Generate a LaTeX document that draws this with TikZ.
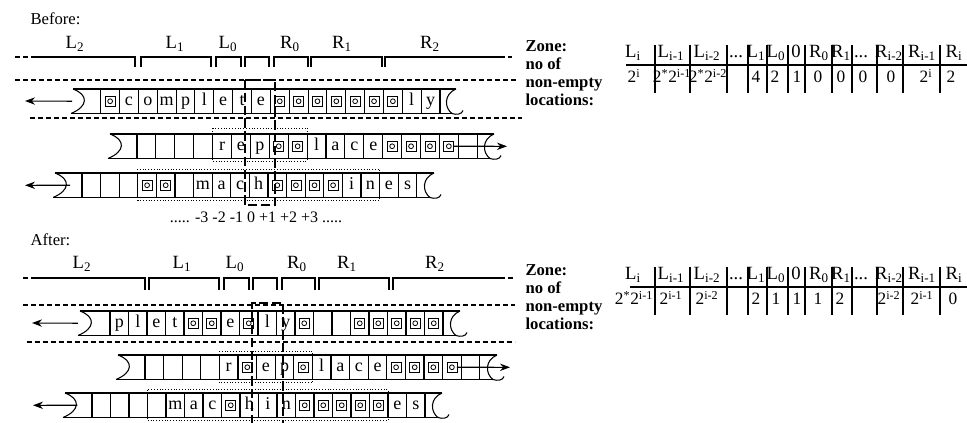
\documentclass[tikz,border=0pt]{standalone}
\usepackage{fontspec}
\setmainfont{Liberation Serif}
\usetikzlibrary{arrows.meta}

% markers used in the tape contents
\def\holemark{H}
\def\blankmark{E}
\newcommand\etc{...}

\tikzset{
  cell/.style={draw, inner sep=0, outer sep=0, text height=8.5pt, text depth=2.5pt,
    font=\fontsize{13.5}{15}\selectfont},
  pics/hole/.style={
    code={
      \draw[line width=0.6pt] (-5,-5) rectangle (5,5);
      \draw[line width=0.6pt] (0,0) circle (2.4);
    }
  },
  guide/.style={dash pattern=on 3.8pt off 2.2pt},
  headwin/.style={line width=1.7pt, dash pattern=on 7pt off 2.6pt},
  marked/.style={line width=0.55pt, dash pattern=on 0.6pt off 1.5pt},
  move/.style={-{Stealth[length=7.5pt,width=5.5pt]}},
  zonelbl/.style={font=\fontsize{14}{16}\selectfont},
  tbl/.style={anchor=base, inner sep=0, font=\fontsize{14}{16}\selectfont},
  tblval/.style={tbl, font=\fontsize{13}{15}\selectfont},
  note/.style={anchor=base west, inner sep=0, font=\bfseries\fontsize{12.5}{14}\selectfont}
}

% one tape: name, left x of first cell, top y, cell width, contents
\newcommand\tape[5]{%
  \foreach \cellchar [count=\n] in {#5} {
    \edef\cellval{\cellchar}
    \node[cell, minimum width=#4*0.75pt, minimum height=24.5*0.75pt]
      (#1-\n) at ({#2+(\n-0.5)*#4}, {#3+12.25})
      {\ifx\cellval\holemark\else\ifx\cellval\blankmark\else\cellchar\fi\fi};
    \ifx\cellval\holemark \pic at (#1-\n) {hole}; \fi
  }
}

% torn ends of a tape: left x, right x, top y, bottom y
\newcommand\tapeends[4]{%
  \draw (#1,#3) -- (#2,#3);
  \draw (#1-2,#4) -- (#2-4,#4);
  \draw (#1,#3) .. controls (#1+16,#3+6) and (#1+15,#4-7) .. (#1-2,#4);
  \draw (#2,#3) .. controls (#2-12,#3+5) and (#2-12,#4-6) .. (#2-4,#4)
    .. controls (#2,#4+1.5) and (#2+6,#4+1) .. (#2+7,#4-3);
}

\begin{document}
\begin{tikzpicture}[x=0.75pt, y=-0.75pt, line width=0.8pt]
  \useasboundingbox (0,0) rectangle (967,423);

  %%% before
  \node[font=\fontsize{12.5}{14}\selectfont, anchor=west, inner sep=0] (before) at (30,19) {Before:};

  \foreach \x/\s [count=\n] in {75/L\textsubscript{2}, 175/L\textsubscript{1}, 228/L\textsubscript{0},
      290/R\textsubscript{0}, 342/R\textsubscript{1}, 430/R\textsubscript{2}}
    \node[zonelbl] (bz\n) at (\x,44) {\s};
  \draw[guide] (15,57) -- (35,57);
  \draw (35,57) -- (135,57) -- (135,67);
  \foreach \a/\b in {141/211, 216/241, 245/269, 274/308, 311/382}
    \draw (\a,67) -- (\a,57) -- (\b,57) -- (\b,67);
  \draw (385,67) -- (385,57) -- (500,57);
  \draw[guide] (500,57) -- (512,57);

  \draw[guide] (15,80) -- (517,80);
  \draw[guide] (30,118) -- (522,118);

  \tape{bt1}{100.7}{89}{18.85}{H,c,o,m,p,l,e,t,e,H,H,H,H,H,H,H,l,y}
  \tapeends{73}{456}{89}{113.5}
  \tape{bt2}{137}{134}{18.9}{E,E,E,E,r,e,p,H,H,l,a,c,e,H,H,H,H,E}
  \tapeends{110}{494}{134}{158.5}
  \tape{bt3}{82}{173}{18.6}{E,E,E,H,H,E,m,a,c,h,H,H,H,H,i,n,e,s}
  \tapeends{55}{434}{173}{197.5}

  \coordinate (bt1-out) at (25,101);
  \coordinate (bt2-out) at (507,146.3);
  \coordinate (bt3-out) at (25,185.3);
  \draw[move] ([xshift=-21.5pt]bt1-1.west) -- (bt1-out);
  \draw[move] ([xshift=3.7pt]bt2-17.center) -- (bt2-out);
  \draw[move] ([xshift=-9pt]bt3-1.west) -- (bt3-out);

  \draw[marked] ([yshift=4.5pt]bt2-5.north west) rectangle ([yshift=-2pt]bt2-9.south east);
  \draw[marked] ([yshift=3pt]bt3-4.north west) rectangle ([yshift=-2pt]bt3-16.south east);
  \draw[headwin] (245,80) rectangle (275,205);

  \node[font=\fontsize{12}{14}\selectfont] (pos) at (256,217) {..... -3 -2 -1 0 +1 +2 +3 .....};

  \foreach \t [count=\n] in {Zone:, no of, non-empty, locations:}
    \node[note] (bn\n) at (525,{34.3+17.7*\n}) {\t};

  \foreach \x/\t [count=\n] in {633/L\textsubscript{i}, 671/L\textsubscript{i-1}, 707/L\textsubscript{i-2},
      736/\etc, 756/L\textsubscript{1}, 776/L\textsubscript{0}, 796/0, 819/R\textsubscript{0},
      841/R\textsubscript{1}, 861/\etc, 889/R\textsubscript{i-2}, 922/R\textsubscript{i-1}, 954/R\textsubscript{i}}
    \node[tbl] (bh\n) at (\x,58) {\t};
  \foreach \x/\t [count=\n] in {634/2\textsuperscript{i}, 672/2\textsuperscript{*}2\textsuperscript{i-1},
      708/2\textsuperscript{*}2\textsuperscript{i-2}, 756/4, 775/2, 797/1, 818/0, 841/0, 863/0,
      891/0, 926/2\textsuperscript{i}, 951/2}
    \node[tblval] (bv\n) at (\x,83) {\t};
  \draw (626,65) -- (967,65);
  \foreach \x in {655,690,727,748,767,788,805,832,852,877,903,940}
    \draw (\x,45) -- (\x,93);

  %%% after
  \node[font=\fontsize{12.5}{14}\selectfont, anchor=west, inner sep=0] (after) at (30,240) {After:};

  \foreach \x/\s [count=\n] in {82/L\textsubscript{2}, 182/L\textsubscript{1}, 235/L\textsubscript{0},
      297/R\textsubscript{0}, 347/R\textsubscript{1}, 435/R\textsubscript{2}}
    \node[zonelbl] (az\n) at (\x,264) {\s};
  \draw[guide] (23,278) -- (35,278);
  \draw (35,278) -- (145,278) -- (145,290);
  \foreach \a/\b in {149/219, 224/249, 253/277, 282/315, 319/389}
    \draw (\a,290) -- (\a,278) -- (\b,278) -- (\b,290);
  \draw (393,290) -- (393,278) -- (500,278);
  \draw[guide] (500,278) -- (513,278);

  \draw[guide] (23,305) -- (515,305);
  \draw[guide] (27,342) -- (515,342);

  \tape{at1}{110}{311}{18.5}{p,l,e,t,H,H,e,H,l,y,H,E,E,H,H,H,H,H}
  \tapeends{80}{460}{311}{335.5}
  \tape{at2}{145}{355}{18.6}{E,E,E,E,r,H,e,p,H,l,a,c,e,H,H,H,H,E}
  \tapeends{118}{497}{355}{379.5}
  \tape{at3}{92}{393}{18.5}{E,E,E,E,m,a,c,H,h,i,n,H,H,H,H,H,e,s}
  \tapeends{65}{442}{393}{417.5}

  \coordinate (at1-out) at (32,323);
  \coordinate (at2-out) at (510,367.3);
  \coordinate (at3-out) at (33,405.3);
  \draw[move] ([xshift=-24pt]at1-1.west) -- (at1-out);
  \draw[move] ([xshift=3.7pt]at2-17.center) -- (at2-out);
  \draw[move] ([xshift=-11pt]at3-1.west) -- (at3-out);

  \draw[marked] ([yshift=3pt]at2-5.north west) rectangle ([yshift=-2.5pt]at2-9.south east);
  \draw[marked] ([yshift=2.5pt]at3-4.north west) rectangle ([yshift=-2pt]at3-16.south east);
  \draw[headwin] (252,424) -- (252,303) -- (283,303) -- (283,424);

  \foreach \t [count=\n] in {Zone:, no of, non-empty, locations:}
    \node[note] (an\n) at (525,{258.3+17.7*\n}) {\t};

  \foreach \x/\t [count=\n] in {633/L\textsubscript{i}, 671/L\textsubscript{i-1}, 707/L\textsubscript{i-2},
      736/\etc, 756/L\textsubscript{1}, 776/L\textsubscript{0}, 796/0, 819/R\textsubscript{0},
      841/R\textsubscript{1}, 861/\etc, 889/R\textsubscript{i-2}, 922/R\textsubscript{i-1}, 954/R\textsubscript{i}}
    \node[tbl] (ah\n) at (\x,280) {\t};
  \foreach \x/\t [count=\n] in {634/2\textsuperscript{*}2\textsuperscript{i-1}, 671/2\textsuperscript{i-1},
      707/2\textsuperscript{i-2}, 756/2, 776/1, 797/1, 818/1, 840/2,
      889/2\textsuperscript{i-2}, 922/2\textsuperscript{i-1}, 953/0}
    \node[tblval] (av\n) at (\x,305) {\t};
  \draw (630,287) -- (967,287);
  \foreach \x in {655,690,727,748,767,788,805,832,852,877,903,940}
    \draw (\x,267) -- (\x,315);
\end{tikzpicture}
\end{document}
